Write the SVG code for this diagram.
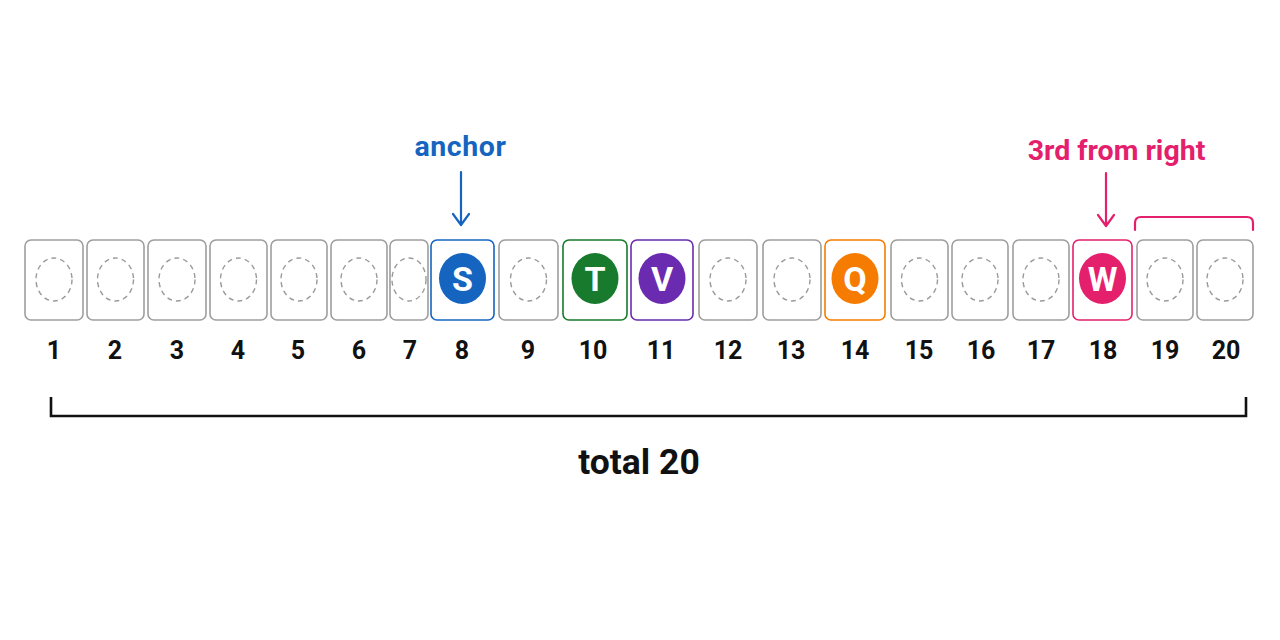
<svg xmlns="http://www.w3.org/2000/svg" width="1280" height="640" viewBox="0 0 1280 640">
<style>
.card{fill:#fff;stroke:#9e9e9e;stroke-width:1.6}
.slot{fill:none;stroke:#9a9a9a;stroke-width:1.4;stroke-dasharray:5 4}
.num{font-family:Roboto,"Liberation Sans",sans-serif;font-weight:700;font-size:25px;fill:#111;text-anchor:middle}
.let{font-family:Roboto,"Liberation Sans",sans-serif;font-weight:700;font-size:34px;fill:#fff;text-anchor:middle}
.lbl{font-family:Roboto,"Liberation Sans",sans-serif;font-weight:700;font-size:28.5px;text-anchor:middle}
.ln{fill:none;stroke-width:2.2;stroke-linecap:round;stroke-linejoin:round}
</style>
<rect width="1280" height="640" fill="#fff"/>
<g id="card1"><rect class="card" x="25" y="240" width="58" height="80" rx="6"/><ellipse class="slot" cx="54" cy="279.5" rx="18" ry="21.5"/><text class="num" x="54" y="359">1</text></g>
<g id="card2"><rect class="card" x="87" y="240" width="57" height="80" rx="6"/><ellipse class="slot" cx="115.5" cy="279.5" rx="18" ry="21.5"/><text class="num" x="115" y="359">2</text></g>
<g id="card3"><rect class="card" x="148" y="240" width="58" height="80" rx="6"/><ellipse class="slot" cx="177" cy="279.5" rx="18" ry="21.5"/><text class="num" x="177" y="359">3</text></g>
<g id="card4"><rect class="card" x="210" y="240" width="57" height="80" rx="6"/><ellipse class="slot" cx="238.5" cy="279.5" rx="18" ry="21.5"/><text class="num" x="238" y="359">4</text></g>
<g id="card5"><rect class="card" x="271" y="240" width="56" height="80" rx="6"/><ellipse class="slot" cx="299" cy="279.5" rx="18" ry="21.5"/><text class="num" x="298" y="359">5</text></g>
<g id="card6"><rect class="card" x="331" y="240" width="56" height="80" rx="6"/><ellipse class="slot" cx="359" cy="279.5" rx="18" ry="21.5"/><text class="num" x="359" y="359">6</text></g>
<g id="card7"><rect class="card" x="390" y="240" width="38" height="80" rx="6"/><ellipse class="slot" cx="409" cy="279.5" rx="17" ry="21.5"/><text class="num" x="410" y="359">7</text></g>
<g id="card8"><rect class="card" x="431" y="240" width="63" height="80" rx="6" style="stroke:#1565C0"/><ellipse cx="462.5" cy="278.5" rx="23.5" ry="25.5" fill="#1565C0"/><text class="let" x="462.5" y="290.5">S</text><text class="num" x="462" y="359">8</text></g>
<g id="card9"><rect class="card" x="499" y="240" width="59" height="80" rx="6"/><ellipse class="slot" cx="528.5" cy="279.5" rx="18" ry="21.5"/><text class="num" x="528" y="359">9</text></g>
<g id="card10"><rect class="card" x="563" y="240" width="64" height="80" rx="6" style="stroke:#177A2C"/><ellipse cx="595" cy="278.5" rx="23.5" ry="25.5" fill="#177A2C"/><text class="let" x="595" y="290.5">T</text><text class="num" x="593" y="359">10</text></g>
<g id="card11"><rect class="card" x="631" y="240" width="62" height="80" rx="6" style="stroke:#6A2BB0"/><ellipse cx="662" cy="278.5" rx="23.5" ry="25.5" fill="#6A2BB0"/><text class="let" x="662" y="290.5">V</text><text class="num" x="661" y="359">11</text></g>
<g id="card12"><rect class="card" x="699" y="240" width="58" height="80" rx="6"/><ellipse class="slot" cx="728" cy="279.5" rx="18" ry="21.5"/><text class="num" x="728" y="359">12</text></g>
<g id="card13"><rect class="card" x="763" y="240" width="58" height="80" rx="6"/><ellipse class="slot" cx="792" cy="279.5" rx="18" ry="21.5"/><text class="num" x="791" y="359">13</text></g>
<g id="card14"><rect class="card" x="825" y="240" width="60" height="80" rx="6" style="stroke:#F57C00"/><ellipse cx="855" cy="278.5" rx="23.5" ry="25.5" fill="#F57C00"/><text class="let" x="855" y="290.5">Q</text><text class="num" x="855" y="359">14</text></g>
<g id="card15"><rect class="card" x="891" y="240" width="57" height="80" rx="6"/><ellipse class="slot" cx="919.5" cy="279.5" rx="18" ry="21.5"/><text class="num" x="919" y="359">15</text></g>
<g id="card16"><rect class="card" x="952" y="240" width="56" height="80" rx="6"/><ellipse class="slot" cx="980" cy="279.5" rx="18" ry="21.5"/><text class="num" x="981" y="359">16</text></g>
<g id="card17"><rect class="card" x="1013" y="240" width="56" height="80" rx="6"/><ellipse class="slot" cx="1041" cy="279.5" rx="18" ry="21.5"/><text class="num" x="1041" y="359">17</text></g>
<g id="card18"><rect class="card" x="1073" y="240" width="59" height="80" rx="6" style="stroke:#E4206C"/><ellipse cx="1102.5" cy="278.5" rx="23.5" ry="25.5" fill="#E4206C"/><text class="let" x="1102.5" y="290.5">W</text><text class="num" x="1103" y="359">18</text></g>
<g id="card19"><rect class="card" x="1137" y="240" width="56" height="80" rx="6"/><ellipse class="slot" cx="1165" cy="279.5" rx="18" ry="21.5"/><text class="num" x="1165" y="359">19</text></g>
<g id="card20"><rect class="card" x="1197" y="240" width="56" height="80" rx="6"/><ellipse class="slot" cx="1225" cy="279.5" rx="18" ry="21.5"/><text class="num" x="1226" y="359">20</text></g>
<g id="labels">
<text class="lbl" x="460.5" y="156" fill="#1565C0" style="letter-spacing:0.6px">anchor</text>
<text class="lbl" x="1116.5" y="160" fill="#E4206C">3rd from right</text>
<text class="lbl" x="639" y="474" fill="#111" style="font-size:35.5px">total 20</text>
</g>
<g id="connectors">
<path class="ln" d="M461 172V225M453 214L461 225L469 214" stroke="#1565C0"/>
<path class="ln" d="M1106 173V226M1098 215L1106 226L1114 215" stroke="#E4206C"/>
<path class="ln" d="M1135 230V223Q1135 217 1141 217H1247Q1253 217 1253 223V230" stroke="#E4206C"/>
<path d="M51 397V416H1246V397" fill="none" stroke="#111" stroke-width="2.6"/>
</g>
</svg>
